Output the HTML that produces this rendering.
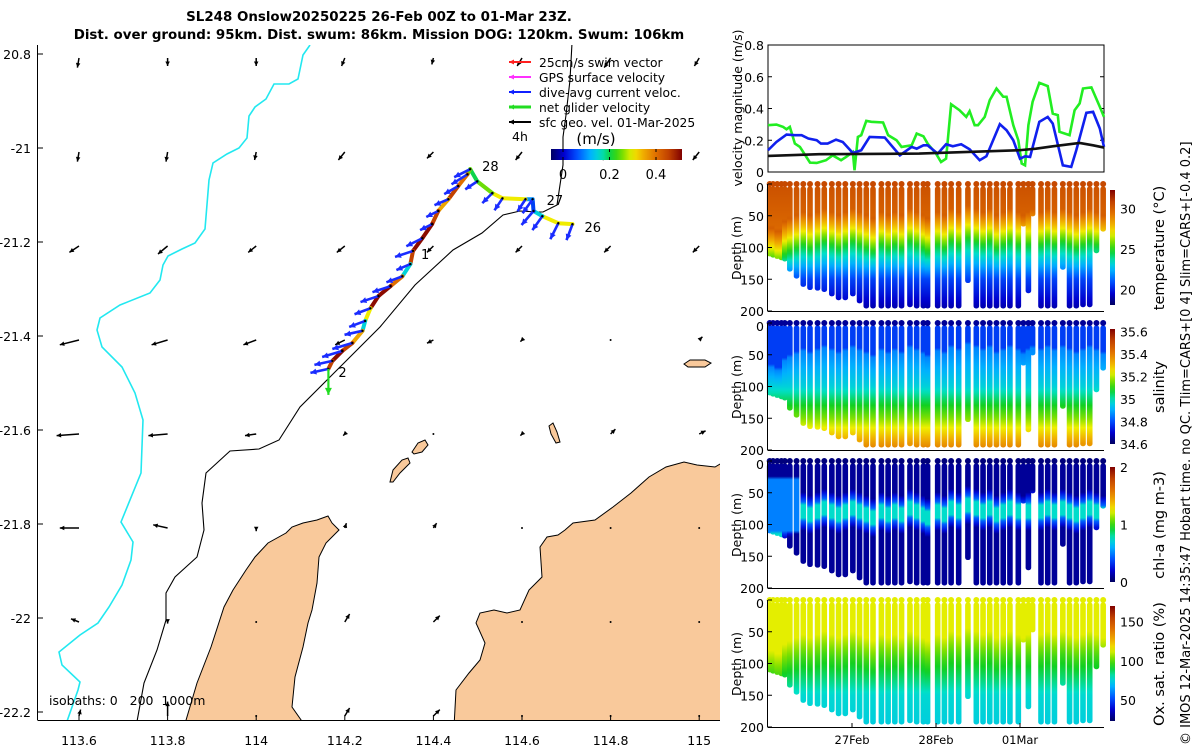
<!DOCTYPE html>
<html><head><meta charset="utf-8"><style>
html,body{margin:0;padding:0;background:#fff;}
svg{display:block;font-family:"DejaVu Sans","Liberation Sans",sans-serif;}
</style></head><body>
<svg id="root" width="1200" height="750" viewBox="0 0 1200 750" xmlns="http://www.w3.org/2000/svg">
<defs>
<clipPath id="mapclip"><rect x="38" y="45" width="682" height="675"/></clipPath>
<linearGradient id="jetH" x1="0" x2="1" y1="0" y2="0"></linearGradient>
<linearGradient id="jetV" x1="0" x2="0" y1="1" y2="0"></linearGradient>
</defs>
<g id="title" font-weight="bold" font-size="13.4" text-anchor="middle">
<text x="379" y="21">SL248 Onslow20250225 26-Feb 00Z to 01-Mar 23Z.</text>
<text x="379" y="39">Dist. over ground: 95km. Dist. swum: 86km. Mission DOG: 120km. Swum: 106km</text>
</g>
<g id="map"></g>
<g id="vel"></g>
<g id="sections"></g>
<text transform="translate(1190,745) rotate(-90)" font-size="13">© IMOS 12-Mar-2025 14:35:47 Hobart time. no QC. Tlim=CARS+[0 4] Slim=CARS+[-0.4 0.2]</text>
</svg>
<script>
// ---------- DATA ----------
const lonTicks=[113.6,113.8,114,114.2,114.4,114.6,114.8,115];
const latTicks=[-20.8,-21,-21.2,-21.4,-21.6,-21.8,-22,-22.2];
const gridU=[
[-0.01,0,0,-0.02,-0.01,-0.03,-0.04,-0.03],
[-0.01,-0.01,-0.01,-0.04,-0.04,-0.04,-0.05,-0.04],
[-0.06,-0.06,-0.05,-0.05,-0.04,-0.04,-0.04,-0.04],
[-0.12,-0.1,-0.08,-0.06,-0.04,-0.01,0,0.02],
[-0.14,-0.12,-0.07,-0.01,0,-0.01,0.03,0.04],
[-0.12,-0.09,0,0.01,0.02,0,0,0],
[-0.05,0,0,0.03,0.04,0,0,0],
[0.01,0,0,0.03,0.04,0,0,0]];
const gridV=[
[-0.06,-0.05,-0.05,-0.05,-0.04,-0.05,-0.06,-0.05],
[-0.06,-0.06,-0.05,-0.05,-0.04,-0.05,-0.05,-0.05],
[-0.04,-0.05,-0.04,-0.04,-0.04,-0.04,-0.04,-0.04],
[-0.03,-0.03,-0.03,-0.03,-0.02,-0.01,0,0.02],
[-0.01,-0.01,-0.01,-0.01,0,-0.01,0.03,0.02],
[0,0.02,-0.02,0.03,0.03,0,0,0],
[0.02,-0.01,0,0.05,0.04,0,0,0],
[0.04,0.09,0,0.05,0.04,0,0,0]];
const trackLon=[114.714,114.682,114.646,114.626,114.624,114.608,114.556,114.533,114.499,114.483,114.477,114.456,114.434,114.411,114.397,114.375,114.354,114.348,114.330,114.303,114.276,114.258,114.246,114.240,114.217,114.194,114.172,114.163];
const trackLat=[-21.162,-21.160,-21.145,-21.134,-21.109,-21.109,-21.107,-21.096,-21.071,-21.045,-21.056,-21.081,-21.109,-21.134,-21.162,-21.192,-21.219,-21.247,-21.273,-21.294,-21.315,-21.341,-21.368,-21.389,-21.415,-21.432,-21.453,-21.470];
const trackSpeed=[0.3,0.3,0.15,0.05,0.1,0.3,0.3,0.25,0.2,0.25,0.4,0.45,0.35,0.45,0.5,0.5,0.45,0.15,0.4,0.5,0.5,0.3,0.15,0.35,0.45,0.5,0.45,0.4];
const curU=[-0.03,-0.04,-0.05,-0.06,-0.05,-0.04,-0.04,-0.05,-0.06,-0.08,-0.08,-0.07,-0.07,-0.06,-0.06,-0.08,-0.09,-0.07,-0.08,-0.09,-0.09,-0.08,-0.08,-0.09,-0.1,-0.1,-0.09,-0.09];
const curV=[-0.08,-0.08,-0.07,-0.07,-0.07,-0.06,-0.06,-0.05,-0.04,-0.04,-0.05,-0.04,-0.03,-0.03,-0.03,-0.04,-0.03,-0.03,-0.03,-0.03,-0.03,-0.03,-0.03,-0.02,-0.03,-0.03,-0.02,-0.02];
const trackLabels=["26","27","28","1","2"];
const velTicks=[0,0.2,0.4,0.6,0.8];
const dateTicks=["27Feb","28Feb","01Mar"];
const netTime=[0,0.10,0.18,0.22,0.26,0.32,0.38,0.50,0.58,0.69,0.77,0.87,0.93,1.01,1.03,1.07,1.11,1.17,1.23,1.37,1.43,1.53,1.59,1.71,1.77,1.85,1.90,2.00,2.06,2.12,2.18,2.28,2.36,2.40,2.46,2.50,2.58,2.64,2.72,2.80,2.84,2.92,2.98,3.02,3.06,3.10,3.15,3.23,3.33,3.39,3.45,3.47,3.59,3.65,3.71,3.75,3.85,3.95,4.00];
const netVel=[0.295,0.299,0.284,0.269,0.284,0.179,0.158,0.059,0.057,0.074,0.105,0.074,0.095,0.126,0.011,0.221,0.232,0.322,0.316,0.312,0.232,0.200,0.158,0.168,0.242,0.225,0.179,0.116,0.063,0.084,0.427,0.389,0.347,0.383,0.295,0.295,0.347,0.453,0.526,0.474,0.474,0.295,0.200,0.053,0.042,0.295,0.442,0.562,0.541,0.368,0.358,0.253,0.232,0.389,0.432,0.526,0.533,0.411,0.347];
const dacTime=[0,0.10,0.22,0.32,0.40,0.48,0.58,0.63,0.71,0.81,0.89,1.01,1.11,1.21,1.39,1.45,1.57,1.71,1.77,1.85,1.90,2.02,2.12,2.20,2.30,2.40,2.52,2.60,2.76,2.84,2.92,3.00,3.06,3.12,3.23,3.33,3.39,3.51,3.61,3.67,3.79,3.87,3.95,4.00];
const dacVel=[0.137,0.189,0.236,0.232,0.232,0.211,0.200,0.179,0.179,0.204,0.189,0.120,0.137,0.221,0.217,0.179,0.105,0.158,0.147,0.168,0.168,0.116,0.175,0.162,0.175,0.143,0.074,0.099,0.301,0.263,0.200,0.084,0.099,0.095,0.316,0.347,0.305,0.042,0.032,0.137,0.373,0.379,0.274,0.158];
const geoTime=[0,0.61,1.80,2.99,3.19,3.39,3.71,3.87,4.0];
const geoVel=[0.101,0.112,0.116,0.137,0.147,0.162,0.183,0.168,0.154];
const diveTime=[0.02,0.06,0.11,0.16,0.20,0.26,0.34,0.42,0.50,0.59,0.67,0.76,0.84,0.92,1.01,1.09,1.17,1.25,1.35,1.43,1.51,1.59,1.69,1.77,1.85,1.90,2.02,2.10,2.18,2.27,2.38,2.48,2.56,2.64,2.72,2.80,2.88,2.98,3.04,3.10,3.15,3.25,3.33,3.41,3.51,3.59,3.67,3.75,3.83,3.91,3.99];
const diveDepth=[114,116,118,120,122,138,149,162,167,168,170,177,183,183,177,188,196,196,196,196,196,196,194,196,196,196,196,196,196,196,156,196,196,196,196,196,196,196,67,172,51,196,196,196,135,196,196,194,194,109,75];
const mixedLayer=[70,70,75,75,60,55,50,45,50,45,40,45,50,45,40,45,50,55,45,50,45,50,40,45,50,55,45,50,40,45,35,40,45,40,50,45,40,45,50,45,40,45,40,45,40,45,50,45,40,45,50];
const tempTicks=[20,25,30], salTicks=[34.6,34.8,35,35.2,35.4,35.6], chlTicks=[0,1,2], oxyTicks=[50,100,150], depthTicks=[0,50,100,150,200];

// ---------- HELPERS ----------
const NS="http://www.w3.org/2000/svg";
function mk(tag,attrs,parent){const e=document.createElementNS(NS,tag);for(const k in attrs)e.setAttribute(k,attrs[k]);parent.appendChild(e);return e;}
const CM=[[0,[0,0,96]],[0.1,[0,0,208]],[0.2,[0,80,255]],[0.3,[0,176,255]],[0.38,[0,224,200]],[0.47,[16,208,32]],[0.55,[128,224,0]],[0.62,[240,240,0]],[0.7,[240,176,0]],[0.8,[224,112,0]],[0.9,[192,64,0]],[1,[128,0,0]]];
function jet(t){t=Math.max(0,Math.min(1,t));for(let i=1;i<CM.length;i++){if(t<=CM[i][0]){const a=CM[i-1],b=CM[i],f=(t-a[0])/(b[0]-a[0]);const c=a[1].map((v,k)=>Math.round(v+(b[1][k]-v)*f));return `rgb(${c[0]},${c[1]},${c[2]})`;}}return 'rgb(128,0,0)';}
const lonX=lon=>79+(lon-113.6)*443;
const latY=lat=>54+(-20.8-lat)*470;
function arrow(g,x,y,dx,dy,col,w,hs){
  const L=Math.hypot(dx,dy); if(L<1.5){const d=mk('circle',{cx:x,cy:y,r:1,fill:col},g);return d;}
  const ln=mk('line',{x1:x,y1:y,x2:x+dx,y2:y+dy,stroke:col,'stroke-width':w},g);
  const ux=dx/L,uy=dy/L,hx=x+dx,hy=y+dy;
  mk('polygon',{points:`${hx},${hy} ${hx-ux*hs-uy*hs*0.5},${hy-uy*hs+ux*hs*0.5} ${hx-ux*hs+uy*hs*0.5},${hy-uy*hs-ux*hs*0.5}`,fill:col},g);
  return ln;
}
['jetH','jetV'].forEach(id=>{const gr=document.getElementById(id);for(let i=0;i<=20;i++)mk('stop',{offset:i/20,'stop-color':jet(i/20)},gr);});

// ---------- MAP ----------
const map=document.getElementById('map');
const mg=mk('g',{'clip-path':'url(#mapclip)'},map);
const land1="184,727 197,683 211,647 224,607 233,590 246,570 255,557 268,543 286,533 292,527 303,523 317,520 328,516 332,523 339,530 332,537 326,543 319,557 317,583 312,610 308,623 303,647 295,677 292,707 306,727";
const land2="454,727 456,690 469,673 480,660 485,643 476,623 480,613 494,610 507,613 520,610 529,590 542,577 540,547 547,537 558,535 565,530 573,523 595,520 613,507 631,493 649,477 666,467 684,462 697,465 715,467 732,457 732,727";
let e;
e=mk('polygon',{points:land1,fill:'#f9c99b',stroke:'#000','stroke-width':1},mg);


e=mk('polygon',{points:land2,fill:'#f9c99b',stroke:'#000','stroke-width':1},mg);


[["412,452 418,443 425,440 428,445 422,452 414,454"],["390,482 393,470 402,460 408,458 410,463 400,473 393,482"],["684,364 690,360 705,360 711,363 705,367 688,367"],["549,426 553,423 557,432 560,442 556,443 551,434"]].forEach(p=>{
 e=mk('polygon',{points:p[0],fill:'#f9c99b',stroke:'#000','stroke-width':1},mg);
 
 
});
const cyanPts="310,45 303,55 298,79 289,84 274,84 266,99 255,107 249,116 247,138 239,148 227,154 213,163 209,180 205,229 195,243 182,249 168,256 163,265 160,280 150,293 120,305 100,318 97,330 102,347 122,367 135,393 143,420 141,473 121,522 133,542 131,560 122,585 109,607 98,623 80,635 59,652 62,665 80,682 78,690 65,727";
e=mk('polyline',{points:cyanPts,fill:'none',stroke:'#22e8f0','stroke-width':1.6},mg);


const blackPts="572,43 570,80 566,115 563,137 563,165 557,205 543,212 537,212 520,211 503,215 482,233 453,250 415,285 380,327 327,380 300,407 279,440 259,449 230,451 206,473 202,503 204,530 197,557 175,577 166,593 166,620 157,650 144,683 136,727";
e=mk('polyline',{points:blackPts,fill:'none',stroke:'#000','stroke-width':1.1},mg);


for(let r=0;r<latTicks.length;r++)for(let c=0;c<lonTicks.length;c++){
  const x=lonX(lonTicks[c]),y=latY(latTicks[r])+4;
  const a=arrow(mg,x,y,gridU[r][c]*160,-gridV[r][c]*160,'#000',1.5,4.5);
  
  
}
for(let i=0;i<trackLon.length-1;i++){
  const s=mk('line',{x1:lonX(trackLon[i]),y1:latY(trackLat[i]),x2:lonX(trackLon[i+1]),y2:latY(trackLat[i+1]),stroke:jet((trackSpeed[i]+0.05)/0.56),'stroke-width':4,'stroke-linecap':'round'},mg);
  
  
}
for(let i=0;i<trackLon.length;i++){
  const x=lonX(trackLon[i]),y=latY(trackLat[i]);
  const a=arrow(mg,x,y,curU[i]*200,-curV[i]*200,'#1a2cff',2.6,6);
  
  
  const d=mk('circle',{cx:x,cy:y,r:1.2,fill:'#000'},mg);
  
  
}
{const n=trackLon.length-1;const a=arrow(mg,lonX(trackLon[n]),latY(trackLat[n]),0,26,'#22dd22',2.2,7);

}
const labIdx=[0,4,9,16,27];const labOff=[[12,8],[14,6],[12,2],[8,8],[10,8]];
trackLabels.forEach((t,i)=>{const k=labIdx[i];const tx=mk('text',{x:lonX(trackLon[k])+labOff[i][0],y:latY(trackLat[k])+labOff[i][1],'font-size':13},mg);tx.textContent=t;

});
mk('line',{x1:37.5,y1:45,x2:37.5,y2:720,stroke:'#000','stroke-width':1},map);
mk('line',{x1:37.5,y1:720.5,x2:720,y2:720.5,stroke:'#000','stroke-width':1},map);
latTicks.forEach(v=>{const y=latY(v);mk('line',{x1:38,y1:y,x2:43,y2:y,stroke:'#000'},map);
 const t=mk('text',{x:31,y:y+5,'font-size':12.5,'text-anchor':'end'},map);t.textContent=(v===-20.8?'20.8':String(v));
 
 });
lonTicks.forEach(v=>{const x=lonX(v);mk('line',{x1:x,y1:720,x2:x,y2:715,stroke:'#000'},map);
 const t=mk('text',{x:x,y:745,'font-size':12.5,'text-anchor':'middle'},map);t.textContent=String(v);
 
 });
e=mk('text',{x:49,y:705,'font-size':12.5,style:'white-space:pre'},map);e.textContent='isobaths: 0   200  1000m';


const leg=mk('g',{},map);


const legItems=[['25cm/s swim vector','#ff2020'],['GPS surface velocity','#ff30ff'],['dive-avg current veloc.','#1020ff'],['net glider velocity','#22dd22'],['sfc geo. vel. 01-Mar-2025','#000']];
legItems.forEach((it,i)=>{const y=62+i*15;arrow(leg,531,y,-22,0,it[1],i==3?3:2,5);
 const t=mk('text',{x:539,y:y+5,'font-size':12.3},leg);t.textContent=it[0];
 
 });
e=mk('text',{x:512,y:141,'font-size':12.5},map);e.textContent='4h';


e=mk('text',{x:596,y:144,'font-size':15,'text-anchor':'middle'},map);e.textContent='(m/s)';


e=mk('rect',{x:551,y:149,width:131,height:11,fill:'url(#jetH)'},map);


[0,0.2,0.4].forEach(v=>{const x=563+v*232.5;mk('line',{x1:x,y1:149,x2:x,y2:152,stroke:'#000'},map);mk('line',{x1:x,y1:160,x2:x,y2:157,stroke:'#000'},map);
 const t=mk('text',{x:x,y:179,'font-size':13,'text-anchor':'middle'},map);t.textContent=String(v);
 
 });

// ---------- VELOCITY PANEL ----------
const vel=document.getElementById('vel');
const X0=768,DX=84;
const tx=t=>X0+t*DX;
const vy=v=>172-v/0.8*127;
mk('rect',{x:768,y:45,width:336,height:127,fill:'none',stroke:'#000'},vel);
velTicks.forEach(v=>{const y=vy(v);mk('line',{x1:768,y1:y,x2:772,y2:y,stroke:'#000'},vel);mk('line',{x1:1104,y1:y,x2:1100,y2:y,stroke:'#000'},vel);
 const t=mk('text',{x:764,y:y+5,'font-size':12.5,'text-anchor':'end'},vel);t.textContent=String(v);
 
 });
e=mk('text',{transform:'translate(742,108) rotate(-90)','font-size':12.5,'text-anchor':'middle'},vel);e.textContent='velocity magnitude (m/s)';


function series(ts,vs,col,name){const p=mk('polyline',{points:ts.map((t,i)=>tx(t)+','+vy(vs[i])).join(' '),fill:'none',stroke:col,'stroke-width':2.6},vel);
 
 }
series(netTime,netVel,'#22ee22','net-glider-velocity-line');
series(dacTime,dacVel,'#1020ee','dive-avg-current-line');
series(geoTime,geoVel,'#111','surface-geostrophic-line');

// ---------- SECTIONS ----------
const sec=document.getElementById('sections');
const defs=document.querySelector('defs');
function tProf(z,m){if(z<m)return 30.4-z*0.01;if(z<m+55)return 30.0-(z-m)/55*5.5;if(z<150)return 24.5-(z-m-55)/(150-m-55)*3.8;return 20.7-(z-150)/50*1.8;}
function sProf(z,m){if(z<m)return 34.78;if(z<100)return 34.86+(z-m)/(100-m)*0.1;if(z<150)return 34.96+(z-100)/50*0.2;return 35.16+(z-150)/50*0.24;}
function cProf(z,m,t){if(t<0.4&&z>25&&z<115)return 0.5;const zc=m+35;const d=Math.abs(z-zc);if(d<12)return 0.75;if(d<30)return 0.5-(d-12)/18*0.38;return 0.1;}
function oProf(z,m){if(z<m+10)return 113;if(z<m+45)return 113-(z-m-10)/35*16;if(z<150)return 97-(z-m-45)/(150-m-45)*20;return 77-(z-150)/50*3;}
const panels=[
 {name:'temperature',y0:184,prof:tProf,min:18.1,max:32.3,ticks:tempTicks,label:'temperature (°C)',surf:30.6},
 {name:'salinity',y0:323,prof:sProf,min:34.6,max:35.62,ticks:salTicks,label:'salinity',surf:34.65},
 {name:'chlorophyll',y0:461,prof:cProf,min:0,max:2,ticks:chlTicks,label:'chl-a (mg m-3)',surf:0.05},
 {name:'oxygen',y0:600,prof:oProf,min:23,max:170,ticks:oxyTicks,label:'Ox. sat. ratio (%)',surf:113}];
let gid=0;
panels.forEach((P,pi)=>{
 const g=mk('g',{},sec);
 
 
 const H=127, dy=d=>P.y0+d/200*H, nrm=v=>(v-P.min)/(P.max-P.min);
 diveTime.forEach((t,i)=>{
  const m=mixedLayer[i],D=diveDepth[i];
  const id='g'+(gid++);const gr=mk('linearGradient',{id:id,x1:0,x2:0,y1:0,y2:1},defs);
  for(let z=5;z<=D;z+=5){mk('stop',{offset:(z-5)/Math.max(1,D-5),'stop-color':jet(nrm(P.prof(z,m,t)))},gr);}
  const r=mk('rect',{x:tx(t)-2.8,y:dy(4),width:5.6,height:dy(D)-dy(4),rx:2.5,fill:`url(#${id})`},g);
  
  
  const c=mk('circle',{cx:tx(t),cy:P.y0,r:3,fill:jet(nrm(P.surf))},g);
  
  
 });
 mk('line',{x1:767.5,y1:P.y0,x2:767.5,y2:P.y0+H,stroke:'#000'},g);
 mk('line',{x1:767.5,y1:P.y0+H+0.5,x2:1104,y2:P.y0+H+0.5,stroke:'#000'},g);
 depthTicks.forEach(d=>{const y=dy(d);mk('line',{x1:768,y1:y,x2:772,y2:y,stroke:'#000'},g);
  const t=mk('text',{x:764,y:y+(d==0?8:5),'font-size':12.5,'text-anchor':'end'},g);t.textContent=String(d);
  
  });
 e=mk('text',{transform:`translate(741,${P.y0+64}) rotate(-90)`,'font-size':12.5,'text-anchor':'middle'},g);e.textContent='Depth (m)';
 
 
 const cb0=P.y0+6,cb1=P.y0+H-6;
 e=mk('rect',{x:1110,y:cb0,width:5,height:cb1-cb0,fill:'url(#jetV)'},g);
 
 
 P.ticks.forEach(v=>{const y=cb1-nrm(v)*(cb1-cb0);
  const t=mk('text',{x:1120,y:y+5,'font-size':12.5},g);t.textContent=String(v);
  
  });
 e=mk('text',{transform:`translate(1164,${P.y0+64}) rotate(-90)`,'font-size':14.5,'text-anchor':'middle'},g);e.textContent=P.label;
 
 
});
dateTicks.forEach((d,i)=>{const x=tx(i+1);mk('line',{x1:x,y1:727,x2:x,y2:723,stroke:'#000'},sec);
 const t=mk('text',{x:x,y:744,'font-size':11.5,'text-anchor':'middle'},sec);t.textContent=d;
 
 });
</script>
</body></html>
